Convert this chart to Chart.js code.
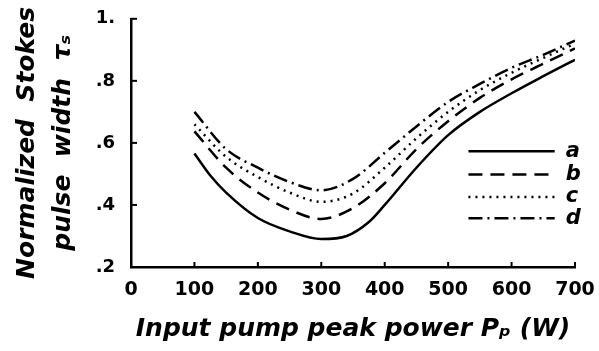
<!DOCTYPE html>
<html>
<head>
<meta charset="utf-8">
<script src="https://cdn.jsdelivr.net/npm/chart.js@4"></script>
<style>
  body { margin: 0; background: #fff; }
  #wrap { width: 599px; height: 351px; }
</style>
</head>
<body>
<div id="wrap"><canvas id="pulseChart"></canvas></div>
<script>
// input pump peak power (W)
const powerA = [100, 125, 150, 200, 250, 300, 340, 375, 400, 450, 500, 550, 600, 650, 700];
const widthA = [0.566, 0.495, 0.44, 0.358, 0.315, 0.29, 0.30, 0.345, 0.40, 0.52, 0.625, 0.70, 0.76, 0.815, 0.868];

const powerBCD = [100, 150, 200, 250, 300, 350, 400, 450, 500, 550, 600, 650, 700];
const widthB = [0.637, 0.52, 0.44, 0.385, 0.355, 0.39, 0.47, 0.58, 0.67, 0.745, 0.805, 0.855, 0.905];
const widthC = [0.66, 0.555, 0.49, 0.44, 0.41, 0.437, 0.52, 0.615, 0.70, 0.77, 0.826, 0.874, 0.92];
const widthD = [0.70, 0.58, 0.52, 0.474, 0.447, 0.484, 0.568, 0.653, 0.732, 0.79, 0.842, 0.884, 0.93];

const seriesNames = ['a', 'b', 'c', 'd'];
const xTicks = [0, 100, 200, 300, 400, 500, 600, 700];
const yTicks = [0.2, 0.4, 0.6, 0.8, 1.0];

function toPoints(xs, ys) {
    return xs.map((x, i) => ({ x: x, y: ys[i] }));
}

// legend drawn inside the plot area, like the original figure
const innerLegend = {
    id: 'innerLegend',
    afterDatasetsDraw(chart) {
        const ctx = chart.ctx;
        const xs = chart.scales.x, ys = chart.scales.y;
        const x0 = xs.getPixelForValue(532), x1 = xs.getPixelForValue(668);
        const rows = [0.573, 0.498, 0.426, 0.357];
        ctx.save();
        chart.data.datasets.forEach((ds, i) => {
            const y = ys.getPixelForValue(rows[i]);
            ctx.strokeStyle = '#000';
            ctx.lineWidth = ds.borderWidth;
            ctx.setLineDash(ds.borderDash || []);
            ctx.beginPath();
            ctx.moveTo(x0, y);
            ctx.lineTo(x1, y);
            ctx.stroke();
            ctx.setLineDash([]);
            ctx.fillStyle = '#000';
            ctx.font = 'italic bold 21px "DejaVu Sans"';
            ctx.textBaseline = 'middle';
            ctx.fillText(ds.label, x1 + 11, y);
        });
        ctx.restore();
    }
};

// short inward tick marks on both axes
const inwardTicks = {
    id: 'inwardTicks',
    afterDraw(chart) {
        const ctx = chart.ctx;
        const xs = chart.scales.x, ys = chart.scales.y;
        const area = chart.chartArea;
        ctx.save();
        ctx.strokeStyle = '#000';
        ctx.lineWidth = 2;
        yTicks.slice(1).forEach(v => {
            const y = ys.getPixelForValue(v);
            ctx.beginPath();
            ctx.moveTo(area.left, y);
            ctx.lineTo(area.left + 6, y);
            ctx.stroke();
        });
        xTicks.slice(1).forEach(v => {
            const x = xs.getPixelForValue(v);
            ctx.beginPath();
            ctx.moveTo(x, area.bottom);
            ctx.lineTo(x, area.bottom - 5);
            ctx.stroke();
        });
        ctx.restore();
    }
};

const lineStyle = {
    borderColor: '#000',
    borderWidth: 2.5,
    pointRadius: 0,
    fill: false,
    tension: 0.4,
    cubicInterpolationMode: 'monotone'
};

new Chart(document.getElementById('pulseChart'), {
    type: 'line',
    data: {
        datasets: [
            Object.assign({ label: seriesNames[0], data: toPoints(powerA, widthA) }, lineStyle),
            Object.assign({ label: seriesNames[1], data: toPoints(powerBCD, widthB), borderDash: [14, 8] }, lineStyle),
            Object.assign({ label: seriesNames[2], data: toPoints(powerBCD, widthC), borderDash: [2, 5] }, lineStyle),
            Object.assign({ label: seriesNames[3], data: toPoints(powerBCD, widthD), borderDash: [14, 5, 2, 5] }, lineStyle)
        ]
    },
    options: {
        responsive: true,
        maintainAspectRatio: false,
        animation: false,
        layout: {
            padding: { top: 12, right: 24, bottom: 0, left: 0 }
        },
        plugins: {
            legend: { display: false },
            tooltip: { enabled: false }
        },
        scales: {
            x: {
                type: 'linear',
                min: 0,
                max: 700,
                afterBuildTicks: scale => { scale.ticks = xTicks.map(v => ({ value: v })); },
                afterFit: scale => { scale.height = 84; },
                grid: { display: false },
                border: { color: '#000', width: 2.5 },
                ticks: {
                    color: '#000',
                    padding: 4,
                    maxRotation: 0,
                    font: { family: 'DejaVu Sans', size: 19, weight: 'bold' }
                },
                title: {
                    display: true,
                    text: 'Input pump peak power Pₚ (W)',
                    color: '#000',
                    padding: { top: 0, bottom: 7 },
                    font: { family: 'DejaVu Sans', size: 25, style: 'italic', weight: 'bold' }
                }
            },
            y: {
                type: 'linear',
                min: 0.2,
                max: 1.0,
                afterBuildTicks: scale => { scale.ticks = yTicks.map(v => ({ value: v })); },
                afterFit: scale => { scale.width = 131; },
                grid: { display: false },
                border: { color: '#000', width: 2.5 },
                ticks: {
                    color: '#000',
                    padding: 8,
                    font: { family: 'DejaVu Sans', size: 18, weight: 'bold' },
                    callback: function(value) {
                        const tenths = Math.round(value * 10);
                        return tenths === 10 ? '1.' : '.' + tenths;
                    }
                },
                title: {
                    display: true,
                    text: ['Normalized  Stokes', 'pulse  width  τₛ'],
                    color: '#000',
                    padding: { top: 9, bottom: 0 },
                    font: { family: 'DejaVu Sans', size: 25, style: 'italic', weight: 'bold', lineHeight: 1.45 }
                }
            }
        }
    },
    plugins: [innerLegend, inwardTicks]
});
</script>
</body>
</html>
